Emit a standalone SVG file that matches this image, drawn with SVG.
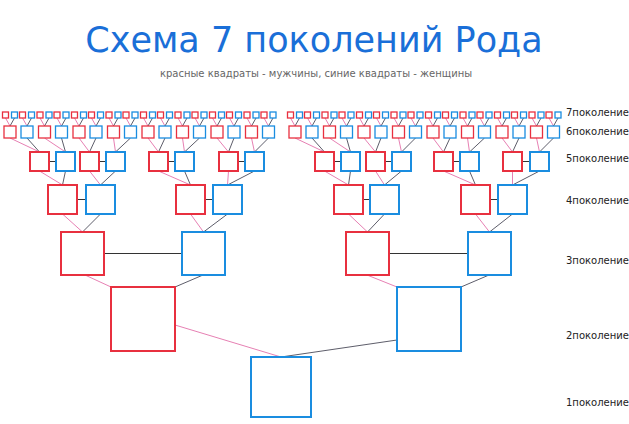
<svg xmlns="http://www.w3.org/2000/svg" xmlns:xlink="http://www.w3.org/1999/xlink" width="629" height="424" viewBox="0 0 629 424">
<style>
.m{fill:#fff;stroke:#e8303f;stroke-width:2}
.f{fill:#fff;stroke:#1a8de0;stroke-width:2}
.s{stroke-width:1.3}
.p{stroke:#e0609f;stroke-width:0.8;fill:none}
.d{stroke:#334;stroke-width:0.8;fill:none}
.h{stroke:#333;stroke-width:1;fill:none}
.lb{font-family:"DejaVu Sans",sans-serif;font-size:10px;fill:#222}
</style>
<defs>
<g id="u7">
<line class="p" x1="1.5" y1="118" x2="6" y2="126"/>
<line class="d" x1="10.5" y1="118" x2="6" y2="126"/>
<rect class="m s" x="-1.5" y="112" width="6" height="6"/>
<rect class="f s" x="7.5" y="112" width="6" height="6"/>
</g>
<g id="uR"><use xlink:href="#u7"/><rect class="m s" x="0" y="126" width="12" height="12"/></g>
<g id="uB"><use xlink:href="#u7"/><rect class="f s" x="0" y="126" width="12" height="12"/></g>
</defs>
<rect width="629" height="424" fill="#fff"/>
<text x="314" y="52" text-anchor="middle" font-family="DejaVu Sans,sans-serif" font-size="35" fill="#1a6fd8">Схема 7 поколений Рода</text>
<text x="316" y="77" text-anchor="middle" font-family="DejaVu Sans,sans-serif" font-size="10" fill="#666">красные квадраты - мужчины, синие квадраты - женщины</text>
<g id="connectors">
<path class="p" d="M10 138L39.5 152M44.5 138L65.5 152M79 138L89.5 152M113.5 138L115.5 152M148 138L158.5 152M182.5 138L184.5 152M217 138L228.5 152M251.5 138L254.5 152M295 138L324.5 152M329.5 138L350.5 152M364 138L375.5 152M398.5 138L401.5 152M433 138L443.5 152M467.5 138L469.5 152M502 138L512.5 152M536.5 138L539.5 152"/>
<path class="d" d="M27 138L39.5 152M61.5 138L65.5 152M96 138L89.5 152M130.5 138L115.5 152M165 138L158.5 152M199.5 138L184.5 152M234 138L228.5 152M268.5 138L254.5 152M312 138L324.5 152M346.5 138L350.5 152M381 138L375.5 152M415.5 138L401.5 152M450 138L443.5 152M484.5 138L469.5 152M519 138L512.5 152M553.5 138L539.5 152"/>
<path class="p" d="M39.5 171L62.5 185M89.5 171L100.5 185M158.5 171L190.5 185M228.5 171L227.5 185M324.5 171L348.5 185M375.5 171L384.5 185M443.5 171L475.5 185M512.5 171L512.5 185"/>
<path class="d" d="M65.5 171L62.5 185M115.5 171L100.5 185M184.5 171L190.5 185M254.5 171L227.5 185M350.5 171L348.5 185M401.5 171L384.5 185M469.5 171L475.5 185M539.5 171L512.5 185"/>
<path class="p" d="M62.5 214L82.5 232M190.5 214L203.5 232M348.5 214L367.5 232M475.5 214L489.5 232"/>
<path class="d" d="M100.5 214L82.5 232M227.5 214L203.5 232M384.5 214L367.5 232M512.5 214L489.5 232"/>
<path class="p" d="M85 275L111 287M367 275L397 287M175 325L281 357"/>
<path class="d" d="M203 275L175 287M489 275L461 287M397 340L281 357"/>
<path class="h" d="M49 161.5H56M99 161.5H106M168 161.5H175M238 161.5H245M334 161.5H341M385 161.5H392M453 161.5H460M522 161.5H530M77 199.5H86M205 199.5H213M363 199.5H370M490 199.5H498M104 253.5H182M389 253.5H468"/>
</g>
<g id="gen6-7">
<use id="n6-1" xlink:href="#uR" x="4"/><use id="n6-2" xlink:href="#uB" x="21"/>
<use id="n6-3" xlink:href="#uR" x="38.5"/><use id="n6-4" xlink:href="#uB" x="55.5"/>
<use id="n6-5" xlink:href="#uR" x="73"/><use id="n6-6" xlink:href="#uB" x="90"/>
<use id="n6-7" xlink:href="#uR" x="107.5"/><use id="n6-8" xlink:href="#uB" x="124.5"/>
<use id="n6-9" xlink:href="#uR" x="142"/><use id="n6-10" xlink:href="#uB" x="159"/>
<use id="n6-11" xlink:href="#uR" x="176.5"/><use id="n6-12" xlink:href="#uB" x="193.5"/>
<use id="n6-13" xlink:href="#uR" x="211"/><use id="n6-14" xlink:href="#uB" x="228"/>
<use id="n6-15" xlink:href="#uR" x="245.5"/><use id="n6-16" xlink:href="#uB" x="262.5"/>
<use id="n6-17" xlink:href="#uR" x="289"/><use id="n6-18" xlink:href="#uB" x="306"/>
<use id="n6-19" xlink:href="#uR" x="323.5"/><use id="n6-20" xlink:href="#uB" x="340.5"/>
<use id="n6-21" xlink:href="#uR" x="358"/><use id="n6-22" xlink:href="#uB" x="375"/>
<use id="n6-23" xlink:href="#uR" x="392.5"/><use id="n6-24" xlink:href="#uB" x="409.5"/>
<use id="n6-25" xlink:href="#uR" x="427"/><use id="n6-26" xlink:href="#uB" x="444"/>
<use id="n6-27" xlink:href="#uR" x="461.5"/><use id="n6-28" xlink:href="#uB" x="478.5"/>
<use id="n6-29" xlink:href="#uR" x="496"/><use id="n6-30" xlink:href="#uB" x="513"/>
<use id="n6-31" xlink:href="#uR" x="530.5"/><use id="n6-32" xlink:href="#uB" x="547.5"/>
</g>
<g id="gen5">
<rect class="m" x="30" y="152" width="19" height="19"/><rect class="f" x="56" y="152" width="19" height="19"/>
<rect class="m" x="80" y="152" width="19" height="19"/><rect class="f" x="106" y="152" width="19" height="19"/>
<rect class="m" x="149" y="152" width="19" height="19"/><rect class="f" x="175" y="152" width="19" height="19"/>
<rect class="m" x="219" y="152" width="19" height="19"/><rect class="f" x="245" y="152" width="19" height="19"/>
<rect class="m" x="315" y="152" width="19" height="19"/><rect class="f" x="341" y="152" width="19" height="19"/>
<rect class="m" x="366" y="152" width="19" height="19"/><rect class="f" x="392" y="152" width="19" height="19"/>
<rect class="m" x="434" y="152" width="19" height="19"/><rect class="f" x="460" y="152" width="19" height="19"/>
<rect class="m" x="503" y="152" width="19" height="19"/><rect class="f" x="530" y="152" width="19" height="19"/>
</g>
<g id="gen4">
<rect class="m" x="48" y="185" width="29" height="29"/><rect class="f" x="86" y="185" width="29" height="29"/>
<rect class="m" x="176" y="185" width="29" height="29"/><rect class="f" x="213" y="185" width="29" height="29"/>
<rect class="m" x="334" y="185" width="29" height="29"/><rect class="f" x="370" y="185" width="29" height="29"/>
<rect class="m" x="461" y="185" width="29" height="29"/><rect class="f" x="498" y="185" width="29" height="29"/>
</g>
<g id="gen3">
<rect class="m" x="61" y="232" width="43" height="43"/><rect class="f" x="182" y="232" width="43" height="43"/>
<rect class="m" x="346" y="232" width="43" height="43"/><rect class="f" x="468" y="232" width="43" height="43"/>
</g>
<g id="gen2">
<rect class="m" x="111" y="287" width="64" height="64"/><rect class="f" x="397" y="287" width="64" height="64"/>
</g>
<g id="gen1"><rect class="f" x="251" y="357" width="60" height="60"/></g>
<g id="labels">
<text class="lb" x="566" y="116">7поколение</text>
<text class="lb" x="566" y="135">6поколение</text>
<text class="lb" x="566" y="162">5поколение</text>
<text class="lb" x="566" y="204">4поколение</text>
<text class="lb" x="566" y="264">3поколение</text>
<text class="lb" x="566" y="339">2поколение</text>
<text class="lb" x="566" y="406">1поколение</text>
</g>
</svg>
